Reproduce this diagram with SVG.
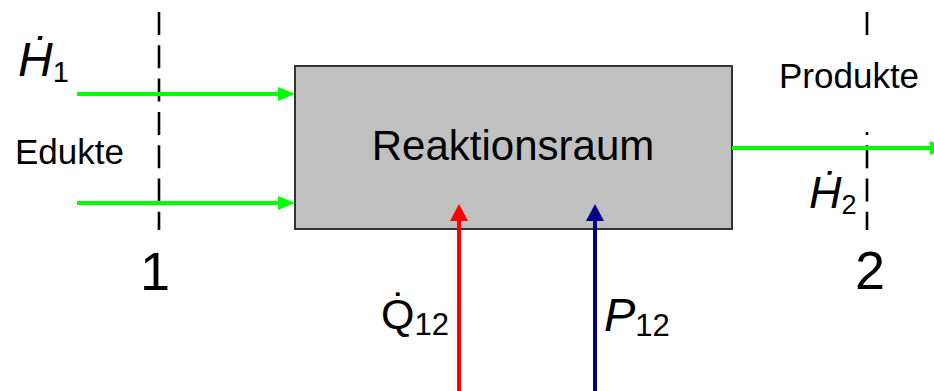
<svg xmlns="http://www.w3.org/2000/svg" width="934" height="391" viewBox="0 0 934 391">
<style>
text{font-family:"Liberation Sans",Arial,sans-serif;fill:#000}
.it{font-style:italic}
.dash{stroke:#000;stroke-width:2.6;stroke-dasharray:23 10.3;fill:none}
.g{stroke:#00ff00;stroke-width:4;fill:none}
.r{stroke:#ff0000;stroke-width:4;fill:none}
.b{stroke:#000080;stroke-width:4;fill:none}
</style>
<defs>
<marker id="ag" viewBox="0 0 17 14" refX="0" refY="7" markerWidth="17" markerHeight="14" markerUnits="userSpaceOnUse" orient="auto"><path d="M0,0 L17,7 L0,14 Z" fill="#00ff00"/></marker>
<marker id="ar" viewBox="0 0 17 18" refX="0" refY="9" markerWidth="17" markerHeight="18" markerUnits="userSpaceOnUse" orient="auto"><path d="M0,0 L17,9 L0,18 Z" fill="#ff0000"/></marker>
<marker id="ab" viewBox="0 0 17 18" refX="0" refY="9" markerWidth="17" markerHeight="18" markerUnits="userSpaceOnUse" orient="auto"><path d="M0,0 L17,9 L0,18 Z" fill="#000080"/></marker>
</defs>
<rect width="934" height="391" fill="#fff"/>

<g id="boundary-1">
<line class="dash" x1="159" y1="12" x2="159" y2="230"/>
<text x="155" y="290" font-size="54" text-anchor="middle">1</text>
</g>
<g id="boundary-2">
<line class="dash" x1="867" y1="12" x2="867" y2="36"/>
<line class="dash" x1="867" y1="132" x2="867" y2="230" stroke-dashoffset="20.1"/>
<text x="870" y="289" font-size="54" text-anchor="middle">2</text>
</g>

<g id="reaktionsraum">
<rect x="295" y="66" width="437" height="163" fill="#c0c0c0" stroke="#333" stroke-width="2"/>
<text x="513" y="160" font-size="42" text-anchor="middle">Reaktionsraum</text>
</g>

<g id="connectors">
<line class="g" x1="77" y1="94" x2="278" y2="94" marker-end="url(#ag)"/>
<line class="g" x1="77" y1="203" x2="278" y2="203" marker-end="url(#ag)"/>
<line class="g" x1="732" y1="148" x2="930" y2="148" marker-end="url(#ag)"/>
<line class="r" x1="459" y1="391" x2="459" y2="221" marker-end="url(#ar)"/>
<line class="b" x1="595" y1="391" x2="595" y2="221" marker-end="url(#ab)"/>
</g>

<g id="label-edukte">
<text x="15" y="164" font-size="35">Edukte</text>
</g>
<g id="label-produkte">
<text x="779" y="88" font-size="35">Produkte</text>
</g>
<g id="label-H1">
<text x="18" y="76" font-size="48"><tspan class="it">Ḣ</tspan><tspan font-size="29" dy="6">1</tspan></text>
</g>
<g id="label-H2">
<text x="809" y="208" font-size="45"><tspan class="it">Ḣ</tspan><tspan font-size="27" dy="6">2</tspan></text>
</g>
<g id="label-Q12">
<text x="381" y="329" font-size="43">Q̇<tspan font-size="31" dy="6">12</tspan></text>
</g>
<g id="label-P12">
<text x="604" y="331" font-size="47"><tspan class="it">P</tspan><tspan font-size="31" dy="5">12</tspan></text>
</g>
</svg>
